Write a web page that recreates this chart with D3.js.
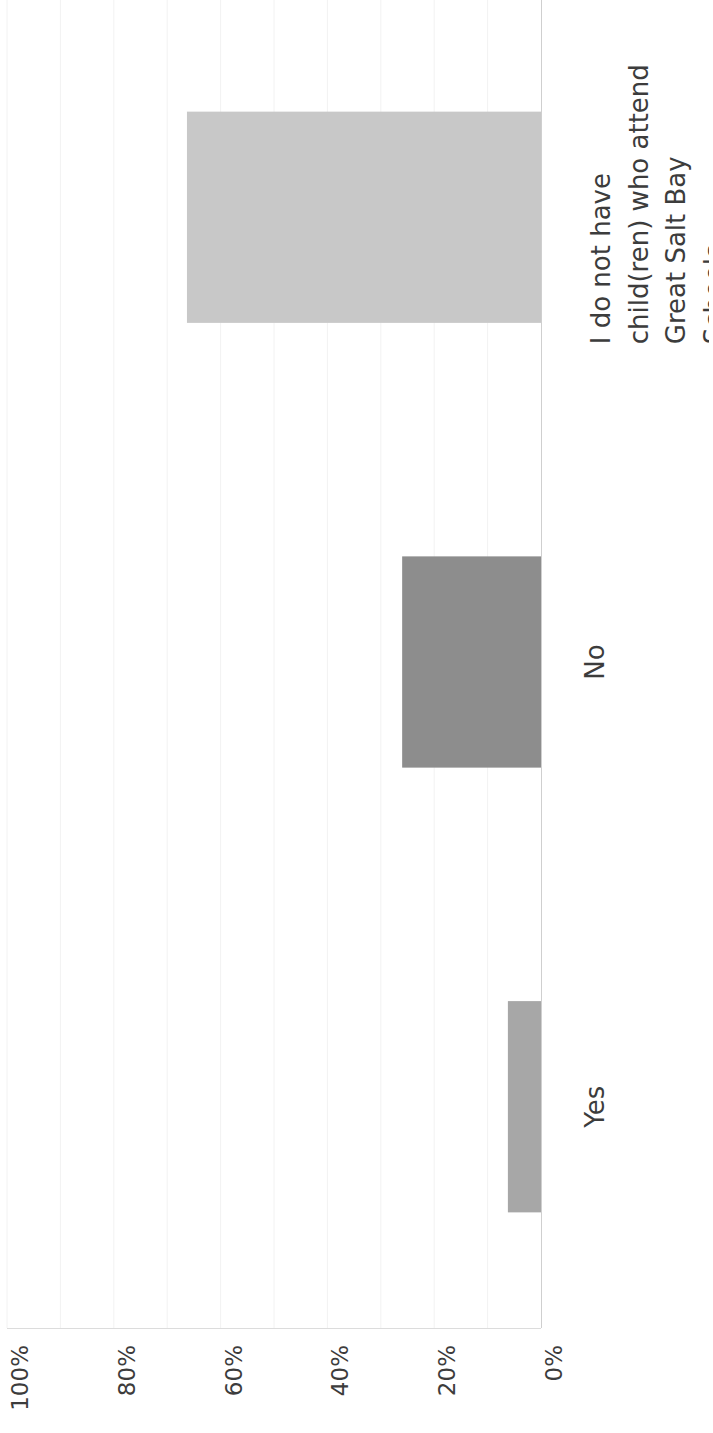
<!DOCTYPE html>
<html>
<head>
<meta charset="utf-8">
<script src="https://cdn.jsdelivr.net/npm/d3@7"></script>
<style>
  body { margin: 0; background: #fff; }
  svg { display: block; }
  .tick-label, .cat-label { font-family: "DejaVu Sans", "Liberation Sans", sans-serif; fill: #3c3c3c; }
</style>
</head>
<body>
<svg id="chart" width="713" height="1433"></svg>
<script>
// chart data (the chart is drawn turned a quarter turn, text reads upward)
const categories = ["I do not have child(ren) who attend Great Salt Bay Schools", "No", "Yes"];
const categoryLines = [
  ["I do not have", "child(ren) who attend", "Great Salt Bay", "Schools"],
  ["No"],
  ["Yes"],
];
const values = [0.663, 0.26, 0.062];
const tickValues = [0, 0.2, 0.4, 0.6, 0.8, 1];
const gridValues = [0.1, 0.2, 0.3, 0.4, 0.5, 0.6, 0.7, 0.8, 0.9, 1];

const barColors = ["#c8c8c8", "#8d8d8d", "#a7a7a7"];

const svg = d3.select("#chart");
const baseY = 1328; // bottom edge of plot

const x = d3.scaleLinear().domain([0, 1]).range([541, 7]);
const y = d3
  .scaleBand()
  .domain(categories)
  .range([-4, baseY])
  .paddingInner(0.525)
  .paddingOuter(0.26);

// label box is clipped, so the last wrapped line only peeks out
svg
  .append("clipPath")
  .attr("id", "label-clip")
  .append("rect")
  .attr("x", 0)
  .attr("y", 0)
  .attr("width", 709)
  .attr("height", 1433);

// Faint gridlines
svg
  .selectAll(".grid")
  .data(gridValues)
  .enter()
  .append("line")
  .attr("class", "grid")
  .attr("x1", (d) => x(d))
  .attr("x2", (d) => x(d))
  .attr("y1", 0)
  .attr("y2", baseY)
  .attr("stroke", "#f2f2f2")
  .attr("stroke-width", 1);

// Bars
svg
  .selectAll(".bar")
  .data(values)
  .enter()
  .append("rect")
  .attr("class", "bar")
  .attr("x", (d) => x(d))
  .attr("y", (d, i) => y(categories[i]))
  .attr("width", (d) => x(0) - x(d))
  .attr("height", y.bandwidth())
  .attr("fill", (d, i) => barColors[i]);

// Axis lines
svg
  .append("line")
  .attr("x1", x(0) + 0.5)
  .attr("x2", x(0) + 0.5)
  .attr("y1", 0)
  .attr("y2", baseY)
  .attr("stroke", "#cfcfcf");

svg
  .append("line")
  .attr("x1", x(1))
  .attr("x2", x(0))
  .attr("y1", baseY + 0.5)
  .attr("y2", baseY + 0.5)
  .attr("stroke", "#dcdcdc");

// Value tick labels
svg
  .selectAll(".tick-label")
  .data(tickValues)
  .enter()
  .append("text")
  .attr("class", "tick-label")
  .attr("transform", (d) => `translate(${x(d) + 21},${baseY + 17}) rotate(-90)`)
  .attr("text-anchor", "end")
  .style("font-size", "23px")
  .text((d) => d3.format(".0%")(d));

// Category labels
const catLabels = svg
  .append("g")
  .attr("clip-path", "url(#label-clip)")
  .selectAll(".cat-label")
  .data(categories)
  .enter()
  .append("text")
  .attr("class", "cat-label")
  .style("font-size", "26px")
  .attr("text-anchor", (d, i) => (categoryLines[i].length > 1 ? "start" : "middle"))
  .attr("transform", (d, i) => {
    const c = y(d) + y.bandwidth() / 2;
    const multi = categoryLines[i].length > 1;
    const py = multi ? c + 127 : c;
    const px = x(0) + (multi ? 69 : 63);
    return `translate(${px},${py}) rotate(-90)`;
  });

catLabels.each(function (d, i) {
  const t = d3.select(this);
  categoryLines[i].forEach((line, j) => {
    t.append("tspan")
      .attr("x", 0)
      .attr("dy", j === 0 ? 0 : 37.7)
      .text(line);
  });
});
</script>
</body>
</html>
